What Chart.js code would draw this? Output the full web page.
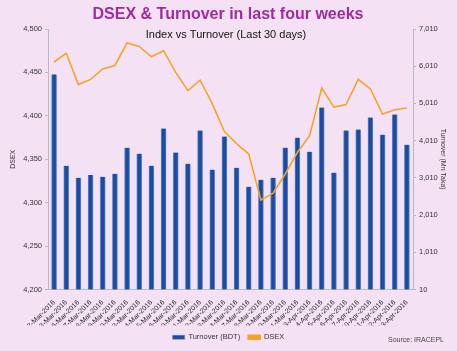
<!DOCTYPE html>
<html>
<head>
<meta charset="utf-8">
<script src="https://cdn.jsdelivr.net/npm/chart.js@4/dist/chart.umd.min.js"></script>
<style>
  html, body { margin: 0; padding: 0; background: #F4E2F4; }
  #wrap { width: 457px; height: 351px; }
</style>
</head>
<body>
<div id="wrap"><canvas id="c" width="457" height="351"></canvas></div>
<script>
const categories = [
  "2-Mar-2016","3-Mar-2016","6-Mar-2016","7-Mar-2016","8-Mar-2016","9-Mar-2016","10-Mar-2016",
  "13-Mar-2016","14-Mar-2016","15-Mar-2016","16-Mar-2016",
  "20-Mar-2016","21-Mar-2016","22-Mar-2016","23-Mar-2016","24-Mar-2016",
  "27-Mar-2016","28-Mar-2016","29-Mar-2016","30-Mar-2016","31-Mar-2016",
  "3-Apr-2016","4-Apr-2016","5-Apr-2016","6-Apr-2016","7-Apr-2016",
  "10-Apr-2016","11-Apr-2016","12-Apr-2016","13-Apr-2016"
];
const turnover = [
  5790, 3335, 3010, 3090, 3040, 3120, 3820, 3660, 3335, 4335,
  3690, 3390, 4280, 3230, 4120, 3280, 2770, 2960, 3010, 3820,
  4090, 3710, 4900, 3150, 4280, 4310, 4630, 4170, 4710, 3900
];
const dsex = [
  4462, 4472, 4436, 4442, 4454, 4458, 4484, 4480, 4468, 4475,
  4450, 4429, 4441, 4414, 4382, 4368, 4356, 4303, 4311, 4333,
  4358, 4377, 4432, 4410, 4413, 4442, 4431, 4402, 4407, 4409
];
const dsexTicks = [4200, 4250, 4300, 4350, 4400, 4450, 4500];
const turnoverTicks = [10, 1010, 2010, 3010, 4010, 5010, 6010, 7010];

const mainTitle = "DSEX & Turnover in last four weeks";
const subTitle = "Index vs Turnover (Last 30 days)";
const sourceText = "Source: IRACEPL";

const textPlugin = {
  id: 'texts',
  afterDraw(chart) {
    const ctx = chart.ctx;
    ctx.save();
    ctx.textAlign = 'center';
    ctx.textBaseline = 'middle';
    ctx.fillStyle = '#A02A9E';
    ctx.font = 'bold 16px "Liberation Sans", Arial, sans-serif';
    ctx.fillText(mainTitle, 228, 15);
    ctx.fillStyle = '#111111';
    ctx.font = '11px "Liberation Sans", Arial, sans-serif';
    ctx.fillText(subTitle, 226, 35);
    ctx.fillStyle = '#444444';
    ctx.font = '7px "Liberation Sans", Arial, sans-serif';
    ctx.textAlign = 'right';
    ctx.fillText(sourceText, 444, 340);
    ctx.restore();
  }
};

const fmt = v => Number(v).toLocaleString('en-US');

new Chart(document.getElementById('c'), {
  data: {
    labels: categories,
    datasets: [
      {
        type: 'bar',
        label: 'Turnover (BDT)',
        data: turnover,
        yAxisID: 'y1',
        backgroundColor: '#1B4C9E',
        borderColor: '#5585D2',
        borderWidth: { left: 1, right: 1, top: 0, bottom: 0 },
        barThickness: 5,
        order: 1
      },
      {
        type: 'line',
        label: 'DSEX',
        data: dsex,
        yAxisID: 'y',
        borderColor: '#F2A52A',
        backgroundColor: '#F2A52A',
        borderWidth: 1.6,
        pointRadius: 0,
        tension: 0,
        order: 0
      }
    ]
  },
  options: {
    responsive: false,
    devicePixelRatio: 1,
    animation: false,
    layout: { padding: { top: 29, right: 0, left: 0, bottom: 0 } },
    plugins: {
      title: { display: false },
      tooltip: { enabled: false },
      legend: {
        display: true,
        position: 'bottom',
        labels: {
          boxWidth: 12,
          boxHeight: 4,
          padding: 8,
          color: '#333333',
          font: { size: 7.5, family: '"Liberation Sans", Arial, sans-serif' },
          sort: (a, b) => a.datasetIndex - b.datasetIndex
        }
      }
    },
    scales: {
      x: {
        type: 'category',
        offset: true,
        grid: { display: false },
        border: { display: true, color: '#BBBBBB', width: 1 },
        ticks: {
          autoSkip: false,
          maxRotation: 45,
          minRotation: 45,
          padding: 1,
          color: '#2A2A2A',
          font: { size: 7, family: '"Liberation Sans", Arial, sans-serif' }
        },
        afterFit(scale) { scale.height = 36; }
      },
      y: {
        type: 'linear',
        position: 'left',
        min: 4200,
        max: 4500,
        afterBuildTicks(scale) { scale.ticks = dsexTicks.map(v => ({ value: v })); },
        grid: { drawOnChartArea: false, tickLength: 3, color: '#BBBBBB' },
        border: { display: true, color: '#BBBBBB', width: 1 },
        ticks: {
          padding: 3,
          color: '#333333',
          font: { size: 7.5, family: '"Liberation Sans", Arial, sans-serif' },
          callback: v => fmt(v)
        },
        title: {
          display: true,
          text: 'DSEX',
          color: '#333333',
          padding: { top: 9, bottom: 0 },
          font: { size: 7, family: '"Liberation Sans", Arial, sans-serif' }
        },
        afterFit(scale) { scale.width = 48; }
      },
      y1: {
        type: 'linear',
        position: 'right',
        min: 10,
        max: 7010,
        afterBuildTicks(scale) { scale.ticks = turnoverTicks.map(v => ({ value: v })); },
        grid: { drawOnChartArea: false, tickLength: 3, color: '#BBBBBB' },
        border: { display: true, color: '#BBBBBB', width: 1 },
        ticks: {
          padding: 3,
          color: '#333333',
          font: { size: 7.5, family: '"Liberation Sans", Arial, sans-serif' },
          callback: v => fmt(v)
        },
        title: {
          display: true,
          text: 'Turnover (Mn Taka)',
          color: '#333333',
          padding: { top: 10, bottom: 0 },
          font: { size: 7, family: '"Liberation Sans", Arial, sans-serif' }
        },
        afterFit(scale) { scale.width = 44; }
      }
    }
  },
  plugins: [textPlugin]
});
</script>
</body>
</html>
